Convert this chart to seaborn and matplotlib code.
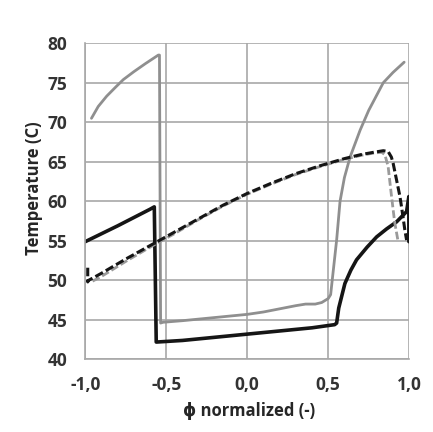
import matplotlib
matplotlib.use("Agg")
import matplotlib.pyplot as plt
import seaborn as sns
from matplotlib.ticker import FuncFormatter

# Datos
# Curva gris continua
gris_x = [-0.962, -0.92, -0.868, -0.81, -0.765, -0.70, -0.63, -0.549, -0.542, -0.535,
          -0.52, -0.40, -0.30, -0.20, -0.10, 0.0, 0.10, 0.20, 0.30, 0.36, 0.42, 0.46,
          0.50, 0.515, 0.53, 0.552, 0.573, 0.60, 0.635, 0.697, 0.75, 0.84, 0.90, 0.969]
gris_y = [70.5, 72.0, 73.3, 74.5, 75.4, 76.4, 77.4, 78.5, 78.5, 44.6,
          44.7, 44.9, 45.1, 45.3, 45.5, 45.7, 46.0, 46.4, 46.8, 47.0, 47.0, 47.2,
          47.7, 48.2, 51.0, 55.1, 60.0, 63.0, 65.6, 69.0, 71.5, 75.0, 76.3, 77.6]

# Curva negra continua
negro_x = [-1.0, -0.8, -0.6, -0.574, -0.562, -0.558, -0.40, -0.20, 0.0, 0.20, 0.40,
           0.54, 0.552, 0.565, 0.603, 0.64, 0.675, 0.74, 0.799, 0.86, 0.922, 0.984,
           0.998, 0.998]
negro_y = [54.9, 56.9, 59.0, 59.3, 42.2, 42.2, 42.4, 42.8, 43.2, 43.6, 44.0,
           44.4, 44.6, 46.5, 49.6, 51.3, 52.6, 54.2, 55.5, 56.5, 57.4, 58.7,
           60.6, 54.9]

# Curva negra discontinua
negro_d_x = [-0.985, -0.985, -0.98, -0.90, -0.75, -0.60, -0.45, -0.30, -0.15, 0.0,
             0.15, 0.30, 0.45, 0.60, 0.70, 0.78, 0.84, 0.87, 0.89, 0.901, 0.92,
             0.943, 0.96, 0.973, 0.984]
negro_d_y = [51.6, 49.8, 50.0, 50.9, 52.7, 54.4, 56.1, 57.8, 59.5, 61.0,
             62.3, 63.5, 64.5, 65.4, 65.9, 66.2, 66.4, 66.3, 65.6, 64.8, 62.9,
             60.6, 58.3, 56.4, 55.1]

# Curva gris discontinua
gris_d_x = [-0.955, -0.90, -0.75, -0.60, -0.45, -0.30, -0.15, 0.0, 0.15, 0.30,
            0.45, 0.60, 0.70, 0.78, 0.83, 0.85, 0.87, 0.89, 0.91, 0.93]
gris_d_y = [49.9, 50.5, 52.4, 54.2, 55.9, 57.7, 59.4, 60.9, 62.2, 63.4,
            64.4, 65.3, 65.8, 66.1, 66.2, 65.9, 64.4, 60.8, 57.4, 55.1]

x_ticks = [-1.0, -0.5, 0.0, 0.5, 1.0]
y_ticks = [40, 45, 50, 55, 60, 65, 70, 75, 80]

sns.set_style("white")
plt.rcParams["font.family"] = ["Open Sans", "DejaVu Sans"]
plt.rcParams["font.weight"] = "bold"

fig = plt.figure(figsize=(4.33, 4.32), dpi=100)
ax = fig.add_axes([0.197, 0.168, 0.748, 0.732])

# Lineas
sns.lineplot(x=gris_x, y=gris_y, sort=False, estimator=None, color="#8f8f8f",
             linewidth=2.0, ax=ax)
sns.lineplot(x=negro_x, y=negro_y, sort=False, estimator=None, color="#151515",
             linewidth=2.6, ax=ax)
sns.lineplot(x=gris_d_x, y=gris_d_y, sort=False, estimator=None, color="#9a9a9a",
             linewidth=2.0, linestyle=(0, (2.8, 1.1)), ax=ax)
sns.lineplot(x=negro_d_x, y=negro_d_y, sort=False, estimator=None, color="#151515",
             linewidth=2.2, linestyle=(0, (2.8, 1.1)), ax=ax)

ax.set_xlim(-1.0, 1.0)
ax.set_ylim(40, 80)
ax.set_xticks(x_ticks)
ax.set_yticks(y_ticks)
ax.xaxis.set_major_formatter(FuncFormatter(lambda v, p: f"{v:.1f}".replace(".", ",")))
ax.grid(True, color="#a8a8a8", linewidth=1.2)
ax.set_axisbelow(True)
for lado in ["top", "right"]:
    ax.spines[lado].set_visible(False)
for lado in ["left", "bottom"]:
    ax.spines[lado].set_color("#a8a8a8")
    ax.spines[lado].set_linewidth(1.2)
ax.tick_params(axis="both", direction="out", length=5, width=1.2, color="#a8a8a8",
               labelsize=12.5, labelcolor="#333333")
ax.tick_params(axis="y", pad=8)
ax.tick_params(axis="x", pad=7)

# Titulos de los ejes
ax.set_xlabel("ϕ normalized (-)", fontsize=12, fontweight="bold", color="#262626")
ax.set_ylabel("Temperature (C)", fontsize=12, fontweight="bold", color="#262626")
ax.xaxis.set_label_coords(0.505, -0.135)
ax.yaxis.set_label_coords(-0.13, 0.542)

fig.savefig("out.png", dpi=100, facecolor="white")
